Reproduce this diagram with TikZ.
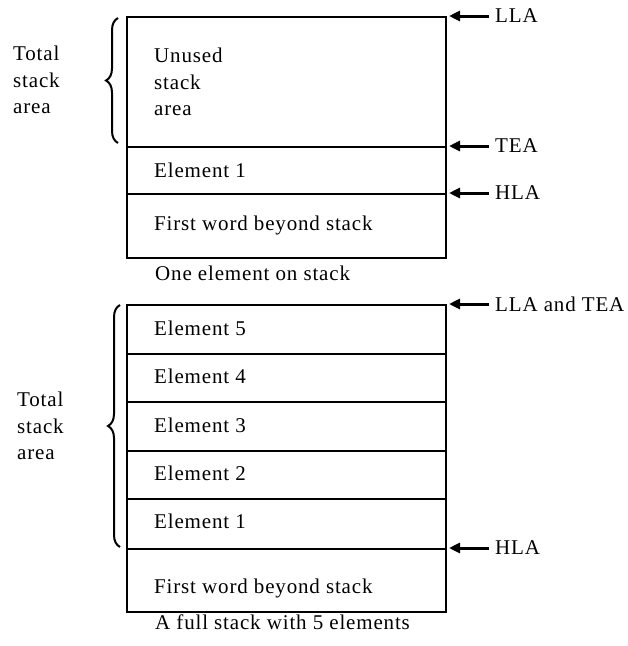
\documentclass[tikz,border=0pt]{standalone}
\usepackage{fontspec}
\setmainfont[LetterSpace=4]{Liberation Serif}
\usetikzlibrary{arrows.meta,decorations.pathreplacing}
\begin{document}
\begin{tikzpicture}[x=1pt,y=-1pt,
  every node/.style={font=\fontsize{21}{26.5}\selectfont},
  stackrow/.style={draw, line width=1.5pt, minimum width=319pt, inner sep=0pt, anchor=north west},
  celltext/.style={anchor=base west, inner sep=0pt},
  sidelabel/.style={anchor=west, inner sep=0pt, align=left},
  ptrlabel/.style={anchor=west, inner sep=2pt},
  ptr/.style={line width=3pt, -{Triangle[length=11pt,width=10pt]}, shorten >=2.5pt, shorten <=4pt},
  stackbrace/.style={decorate, decoration={brace, amplitude=12pt}, line width=2pt}]
\useasboundingbox (0,0) rectangle (628,646);

% ---- top diagram ----
\node[stackrow, minimum height=130pt] (u) at (126,16) {};
\node[stackrow, minimum height=47pt] (e1) at (126,146) {};
\node[stackrow, minimum height=64pt] (fw) at (126,193) {};
\node[sidelabel] (ut) at (154,82) {Unused\\stack\\area};
\node[celltext] (e1t) at (154,177) {Element 1};
\node[celltext] (fwt) at (154,230) {First word beyond stack};
\node[celltext] (cap1) at (155,280) {One element on stack};
\node[sidelabel] (tot1) at (13,80) {Total\\stack\\area};
\draw[stackbrace] (118,143) -- (118,18);

\node[ptrlabel] (lla) at (493,16) {LLA};
\node[ptrlabel] (tea) at (493,146) {TEA};
\node[ptrlabel] (hla) at (493,193) {HLA};
\draw[ptr] (lla.west) -- (u.north east);
\draw[ptr] (tea.west) -- (e1.north east);
\draw[ptr] (hla.west) -- (fw.north east);

% ---- bottom diagram ----
\node[stackrow, minimum height=49pt] (b5) at (126,304) {};
\node[stackrow, minimum height=48pt] (b4) at (126,353) {};
\node[stackrow, minimum height=49pt] (b3) at (126,401) {};
\node[stackrow, minimum height=48pt] (b2) at (126,450) {};
\node[stackrow, minimum height=50pt] (b1) at (126,498) {};
\node[stackrow, minimum height=63pt] (bfw) at (126,548) {};
\node[celltext] (b5t) at (154,335) {Element 5};
\node[celltext] (b4t) at (154,383) {Element 4};
\node[celltext] (b3t) at (154,432) {Element 3};
\node[celltext] (b2t) at (154,480) {Element 2};
\node[celltext] (b1t) at (154,528) {Element 1};
\node[celltext] (bfwt) at (154,593) {First word beyond stack};
\node[celltext] (cap2) at (155,629) {A full stack with 5 elements};
\node[sidelabel] (tot2) at (17,426) {Total\\stack\\area};
\draw[stackbrace] (120,547) -- (120,305);

\node[ptrlabel] (llatea) at (493,304) {LLA and TEA};
\node[ptrlabel] (hla2) at (493,548) {HLA};
\draw[ptr] (llatea.west) -- (b5.north east);
\draw[ptr] (hla2.west) -- (bfw.north east);
\end{tikzpicture}
\end{document}
